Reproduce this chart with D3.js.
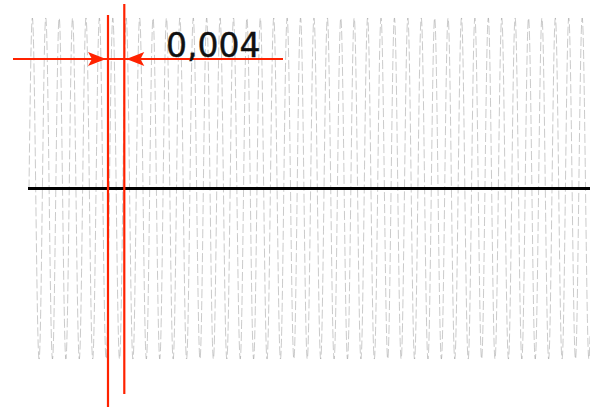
<!DOCTYPE html>
<html>
<head>
<meta charset="utf-8">
<script src="https://cdn.jsdelivr.net/npm/d3@7"></script>
<style>
  body { margin: 0; background: #fff; }
  svg { display: block; }
</style>
</head>
<body>
<div id="chart"></div>
<script>
// values
const timeExtent = [0, 0.1377]          // seconds shown along the axis
const waveAmplitude = [-1, 1]           // signal range
const waveFrequency = [303.8]           // Hz, as drawn
const markerTimes = [0.01939, 0.02339]  // the two red marker lines
const markerLabel = ["0,004"]

const width = 590, height = 407

const svg = d3.select("#chart")
    .append("svg")
        .attr("width", width)
        .attr("height", height)

const x = d3.scaleLinear()
    .domain(timeExtent)
    .range([29, 590])

const y = d3.scaleLinear()
    .domain(waveAmplitude)
    .range([359, 18])

// the sine itself, sampled finely
const samples = d3.range(0, 6000).map(i => {
    const t = timeExtent[0] + (timeExtent[1] - timeExtent[0]) * i / 5999
    return {t: t, v: Math.sin(2 * Math.PI * waveFrequency[0] * t)}
})

svg.append("path")
    .datum(samples)
    .attr("fill", "none")
    .attr("stroke", "#666")
    .attr("stroke-width", 0.35)
    .attr("stroke-dasharray", "9,3")
    .attr("d", d3.line()
        .x(d => x(d.t))
        .y(d => y(d.v))
    )

// zero axis
svg.append("line")
    .attr("x1", 28)
    .attr("x2", width)
    .attr("y1", y(0))
    .attr("y2", y(0))
    .attr("stroke", "#000")
    .attr("stroke-width", 3)

const red = "#ff2200"
const m0 = x(markerTimes[0]), m1 = x(markerTimes[1])
const dimY = 59

// marker lines
svg.append("line")
    .attr("x1", m0).attr("x2", m0)
    .attr("y1", 15).attr("y2", height)
    .attr("stroke", red).attr("stroke-width", 2.2)
svg.append("line")
    .attr("x1", m1).attr("x2", m1)
    .attr("y1", 4).attr("y2", 394)
    .attr("stroke", red).attr("stroke-width", 2.2)

// dimension line
svg.append("line")
    .attr("x1", 13).attr("x2", 283)
    .attr("y1", dimY).attr("y2", dimY)
    .attr("stroke", red).attr("stroke-width", 2.2)

// arrowheads pointing inward
const arrow = (tip, dir) => {
    const len = 18, half = 7, notch = 4
    const b = tip - dir * len
    return `M${tip},${dimY} L${b},${dimY - half} L${b + dir * notch},${dimY} L${b},${dimY + half} Z`
}
svg.append("path").attr("d", arrow(m0 - 2, 1)).attr("fill", red)
svg.append("path").attr("d", arrow(m1 + 2, -1)).attr("fill", red)

svg.append("text")
    .attr("x", 166)
    .attr("y", 57)
    .attr("font-family", "DejaVu Sans")
    .attr("font-size", 33)
    .attr("fill", "#111")
    .attr("stroke", "#111")
    .attr("stroke-width", 0.4)
    .text(markerLabel[0])
</script>
</body>
</html>
